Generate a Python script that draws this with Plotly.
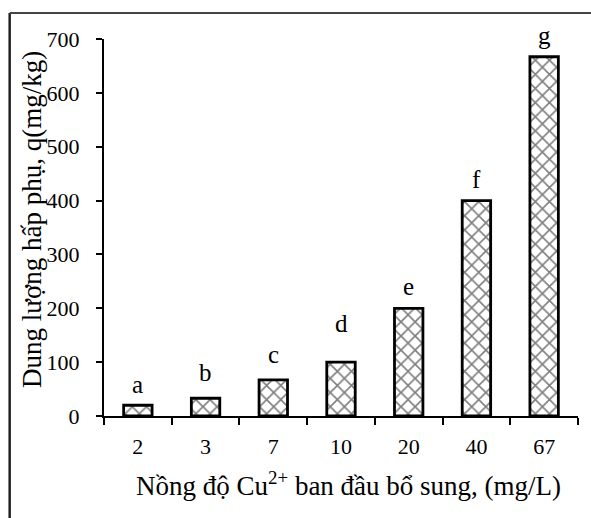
import plotly.graph_objects as go

# Initial Cu2+ concentration (mg/L) and adsorption capacity q (mg/kg)
categories = ["2", "3", "7", "10", "20", "40", "67"]
q_values = [20, 33, 67, 100, 200, 400, 667]
group_letters = ["a", "b", "c", "d", "e", "f", "g"]
y_ticks = [0, 100, 200, 300, 400, 500, 600, 700]

# pixel lift of each significance letter above its bar
letter_lift = [5, 10, 10, 23, 6, 6, 6]

FONT = "Liberation Serif, Times New Roman, serif"

fig = go.Figure()
fig.add_trace(go.Bar(
    x=categories,
    y=q_values,
    width=0.42,
    marker=dict(
        color="white",
        line=dict(color="black", width=2.8),
        pattern=dict(shape="x", fgcolor="black", bgcolor="white",
                     size=10, solidity=0.3, fillmode="overlay"),
    ),
    showlegend=False,
    hoverinfo="x+y",
))

# Significance letters above each bar (category index positions)
for idx, (val, letter, lift) in enumerate(zip(q_values, group_letters, letter_lift)):
    fig.add_annotation(
        x=idx, y=val, text=letter, showarrow=False,
        yanchor="bottom", yshift=lift,
        font=dict(family=FONT, size=25, color="black"),
    )

# Axis titles
fig.add_annotation(
    text="Nồng độ Cu<sup>2+</sup> ban đầu bổ sung, (mg/L)",
    xref="paper", yref="paper", x=0.515, y=-0.18,
    xanchor="center", yanchor="middle", showarrow=False,
    font=dict(family=FONT, size=27, color="black"),
)
fig.add_annotation(
    text="Dung lượng hấp phụ, q(mg/kg)",
    xref="paper", yref="paper", x=-0.152, y=0.5225,
    xanchor="center", yanchor="middle", textangle=-90, showarrow=False,
    font=dict(family=FONT, size=27, color="black"),
)

# Outer frame (left and top edges visible)
fig.add_shape(type="line", xref="paper", yref="paper",
              x0=-0.199, x1=-0.199, y0=-0.3, y1=1.069,
              line=dict(color="#222", width=2.5))
fig.add_shape(type="line", xref="paper", yref="paper",
              x0=-0.199, x1=1.1, y0=1.069, y1=1.069,
              line=dict(color="#444", width=2))

fig.update_layout(
    width=591, height=518,
    margin=dict(l=104, r=13, t=39, b=102),
    paper_bgcolor="white",
    plot_bgcolor="white",
    font=dict(family=FONT, size=22, color="black"),
)

fig.update_xaxes(
    type="category",
    range=[-0.5, 6.5],
    showline=True, linecolor="black", linewidth=2,
    ticks="outside", tickson="boundaries", ticklen=7, tickwidth=2,
    tickcolor="black",
    tickfont=dict(family=FONT, size=22),
    tickangle=0,
    ticklabelstandoff=10,
    showgrid=False,
)

fig.update_yaxes(
    range=[0, 700],
    tickvals=y_ticks,
    showline=True, linecolor="black", linewidth=2,
    ticks="outside", ticklen=6, tickwidth=2, tickcolor="black",
    tickfont=dict(family=FONT, size=22),
    ticklabelstandoff=12,
    showgrid=False, zeroline=False,
)

fig.write_html("out.html")
